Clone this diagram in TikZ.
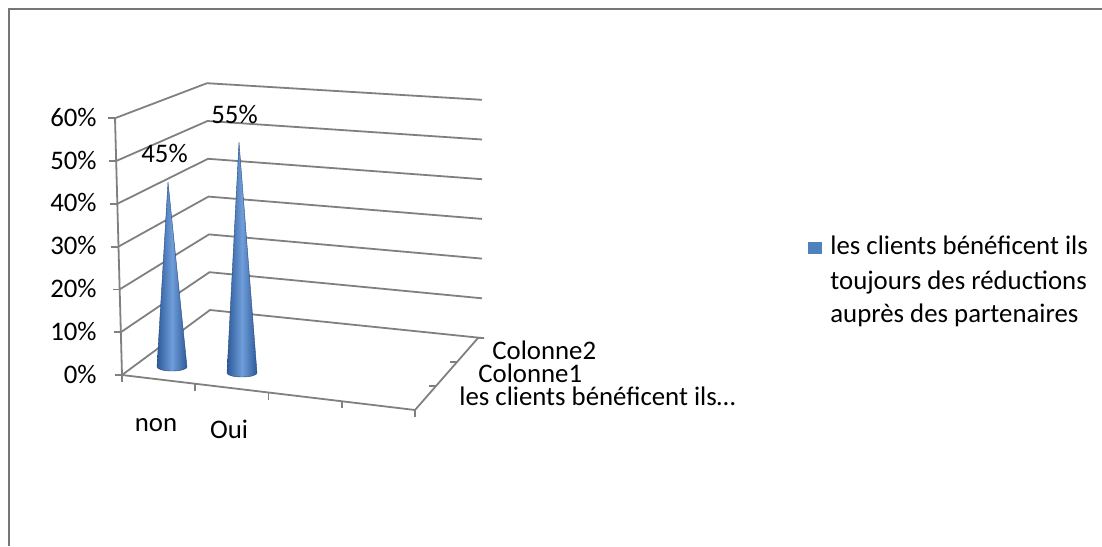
\documentclass[tikz,border=0pt]{standalone}
\usepackage{fontspec}
\setmainfont{Carlito}
\usetikzlibrary{positioning,calc}
\definecolor{framegray}{HTML}{767676}
\definecolor{axisgray}{HTML}{808080}
\definecolor{conedark}{HTML}{2D5A98}
\definecolor{conelight}{HTML}{6E9DDA}
\definecolor{legblue}{HTML}{4F81BD}
\tikzstyle{frame}=[draw=framegray, line width=1.2pt]
\tikzstyle{grid}=[draw=axisgray, line width=0.9pt]
\tikzstyle{cone}=[left color=conedark, right color=conedark, middle color=conelight, draw=conedark!80!black, line width=0.2pt]
\tikzstyle{lbl}=[inner sep=0pt, font=\fontsize{13.4}{17}\selectfont]

\begin{document}
\begin{tikzpicture}[x=0.5pt, y=-0.5pt]
  \useasboundingbox (0,0) rectangle (1102,546);
  \draw[frame] (9,546) -- (9,9) -- (1102,9);

  % walls and grid
  \foreach \k in {0,...,6} {
    \draw[grid] ({122-1.17*\k},{375-42.8*\k}) -- ({210-0.5*\k},{310-37.8*\k}) -- (482,{338-39.7*\k});
    \draw[grid] ({122-1.17*\k},{375-42.8*\k}) -- ++(-7,0);
  }
  \coordinate (o) at (122,375);
  \coordinate (top) at (115,118);
  \coordinate (fr) at (415,410);
  \coordinate (br) at (478,338);
  \draw[grid] (o) -- (top);
  \draw[grid] (o) -- (fr) -- (br) -- ++(6,0);
  \foreach \i in {0,...,4}
    \draw[grid] ($(o)!\i/4!(fr)$) -- ++(0,7);
  \foreach \i in {1,2}
    \draw[grid] ($(fr)!\i/3!(br)$) -- ++(-7,0);

  % cones
  \path[cone] (157,367) -- (168,182) -- (187,367)
    arc[start angle=0, end angle=180, x radius=15, y radius=4] -- cycle;
  \path[cone] (227,373) -- (239,142) -- (257,373)
    arc[start angle=0, end angle=180, x radius=15, y radius=4] -- cycle;
  \node[lbl, anchor=base west] (pnon) at (141,162) {45\%};
  \node[lbl, anchor=base west] (poui) at (211,123) {55\%};

  % value axis
  \foreach \k/\v in {0/0,1/10,2/20,3/30,4/40,5/50,6/60}
    \node[lbl, anchor=base east] (y\v) at (97,{383-42.8*\k}) {\v\%};

  % categories and series
  \node[lbl, anchor=base] (cnon) at (156,431) {non};
  \node[lbl, anchor=base] (coui) at (229,438) {Oui};
  \node[lbl, anchor=base west] (s2) at (492,359) {Colonne2};
  \node[lbl, anchor=base west] (s1) at (478,382) {Colonne1};
  \node[lbl, anchor=base west] (s0) at (459,405) {les clients bénéficent ils…};

  % legend
  \fill[legblue] (808,242) rectangle (822,254);
  \node[lbl, anchor=base west] (leg1) at (830,254) {les clients bénéficent ils};
  \node[lbl, anchor=base west] (leg2) at (830,289) {toujours des réductions};
  \node[lbl, anchor=base west] (leg3) at (830,322) {auprès des partenaires};
\end{tikzpicture}
\end{document}
